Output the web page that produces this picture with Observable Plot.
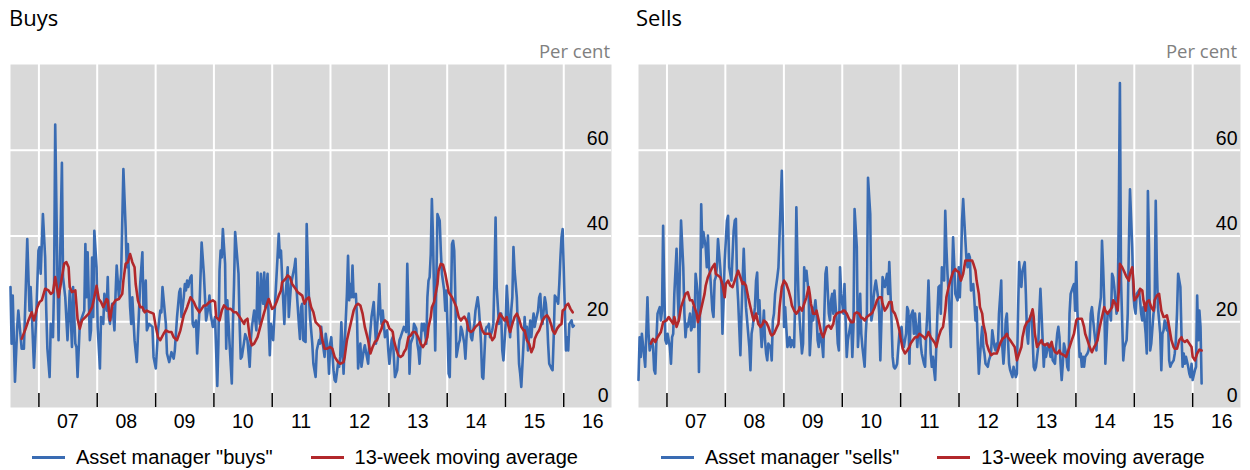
<!DOCTYPE html>
<html>
<head>
<meta charset="utf-8">
<script src="https://cdn.jsdelivr.net/npm/d3@7"></script>
<script src="https://cdn.jsdelivr.net/npm/@observablehq/plot@0.6"></script>
<style>
  html, body { margin: 0; padding: 0; background: #fff; }
  body { width: 1250px; height: 470px; position: relative; overflow: hidden; font-family: "Liberation Sans", Arial, sans-serif; }
  .panel { position: absolute; top: 0; height: 470px; }
  .title { position: absolute; top: 2px; font-family: "Open Sans", sans-serif; font-size: 22px; line-height: 30px; color: #000; }
  .unit { position: absolute; top: 38px; font-family: "Open Sans", sans-serif; font-size: 18.5px; line-height: 25px; color: #808080; white-space: nowrap; }
  .chart { position: absolute; left: 0; top: 40px; }
  .legend { position: absolute; top: 446px; display: flex; gap: 38px; font-size: 20px; line-height: 22px; color: #000; white-space: nowrap; }
  .item { display: flex; align-items: center; }
  .sw { display: inline-block; width: 33px; height: 0; border-top: 3px solid; margin-right: 11px; }
</style>
</head>
<body>
<div class="panel" id="left" style="left:0;width:625px">
  <div class="title" style="left:9px">Buys</div>
  <div class="unit" style="right:15px">Per cent</div>
  <div class="chart"></div>
  <div class="legend" style="left:32px"></div>
</div>
<div class="panel" id="right" style="left:628px;width:622px">
  <div class="title" style="left:8px">Sells</div>
  <div class="unit" style="right:13px">Per cent</div>
  <div class="chart"></div>
  <div class="legend" style="left:33px"></div>
</div>
<script>
// ---- data: [week number since 7 July 2006, per cent] ----
const buysWeekly = [[0,28.1],[1,14.9],[2,26.1],[4,6.0],[6,18.8],[7,22.6],[10,13.7],[12,13.7],[15,39.3],[17,22.6],[18,28.1],[19,22.6],[21,9.3],[23,21.1],[25,36.6],[26,37.4],[27,31.2],[29,45.1],[31,35.0],[32,22.6],[33,13.7],[35,7.1],[36,19.5],[38,16.4],[39,28.8],[40,66.0],[42,30.4],[43,15.7],[46,57.1],[47,30.4],[49,25.7],[51,15.7],[53,27.3],[55,14.1],[56,28.1],[58,14.9],[59,14.1],[60,7.1],[62,19.5],[64,21.1],[66,22.6],[67,38.1],[68,25.7],[69,36.2],[71,15.7],[72,18.0],[73,35.0],[74,21.1],[75,41.2],[77,32.7],[78,18.8],[80,9.1],[81,21.1],[83,19.5],[84,26.5],[86,22.6],[87,30.4],[88,21.1],[89,19.5],[91,24.2],[93,18.0],[94,26.5],[95,33.1],[97,25.7],[99,31.2],[101,55.6],[103,42.0],[104,32.7],[105,38.1],[107,23.4],[108,19.5],[109,25.7],[111,15.7],[113,10.6],[115,22.6],[116,28.8],[118,36.2],[119,22.6],[121,29.6],[122,18.0],[124,19.5],
[127,18.8],[128,11.8],[130,9.1],[132,18.0],[134,22.6],[135,22.2],[136,28.1],[139,19.5],[140,12.6],[142,10.6],[144,12.9],[146,11.4],[147,13.3],[149,21.1],[151,26.9],[152,27.7],[153,21.1],[155,25.7],[156,28.8],[157,27.3],[158,29.6],[159,28.1],[161,30.4],[162,30.8],[163,19.5],[164,18.8],[166,20.3],[167,12.6],[169,22.6],[171,38.5],[173,31.2],[174,25.7],[175,20.3],[177,23.4],[178,26.1],[179,21.9],[181,18.8],[183,21.1],[185,5.0],[186,14.9],[187,31.9],[188,36.6],[189,35.0],[190,41.6],[192,33.5],[193,13.7],[194,25.0],[196,14.9],[198,5.6],[199,19.5],[200,28.8],[201,40.9],[204,31.2],[205,19.5],[206,11.4],[207,11.8],[210,17.1],[212,15.7],[214,9.5],[215,15.7],[216,18.8],[218,22.6],[220,18.0],[221,31.5],[222,22.6],[223,19.5],[224,31.2],[226,24.2],[227,31.5],[228,23.4],[230,31.2],[231,19.5],[232,12.2],[233,19.5],[235,15.7],[237,25.7],[240,40.5],[241,35.0],[242,36.6],[243,30.4],[245,19.5],[246,25.7],[248,32.7],[249,21.1],[251,28.8],
[254,32.7],[255,34.7],[256,27.3],[258,19.5],[259,16.0],[260,23.4],[261,24.2],[262,15.7],[264,15.3],[265,42.8],[266,33.5],[267,25.7],[268,21.1],[270,14.9],[271,10.2],[273,7.1],[274,13.3],[276,15.7],[277,14.9],[278,18.8],[279,15.7],[281,11.8],[282,17.2],[284,13.3],[285,7.9],[286,14.9],[287,16.4],[289,8.7],[290,6.4],[291,6.0],[293,10.2],[294,9.5],[295,11.8],[296,19.9],[298,7.9],[299,14.9],[301,26.5],[302,35.4],[303,25.0],[304,28.8],[305,25.7],[306,33.1],[307,25.7],[309,26.5],[310,21.1],[311,9.1],[313,14.9],[314,9.5],[316,13.3],[317,14.5],[320,10.2],[321,14.9],[323,21.1],[325,24.6],[326,19.5],[327,14.9],[329,22.6],[330,28.8],[331,21.9],[332,19.5],[333,22.6],[335,16.4],[337,18.0],[338,13.3],[339,10.2],[341,15.7],[342,16.4],[343,11.8],[344,7.1],[346,8.7],[347,13.3],[348,15.7],[349,16.4],[351,18.0],[352,18.8],[354,17.6],[355,33.5],[356,22.6],[357,7.9],[358,14.9],[360,16.4],[361,19.5],[363,18.4],[364,14.9],[365,13.3],[366,10.2],[368,19.5],[369,18.0],[370,19.5],[372,14.9],[373,25.7],[374,29.6],[375,30.4],[376,35.8],[377,48.6],[378,39.7],[379,25.7],
[380,13.3],[382,45.1],[384,43.6],[385,36.6],[386,31.2],[388,27.3],[389,22.6],[390,27.3],[391,18.8],[392,7.9],[393,7.1],[394,22.6],[395,38.1],[396,38.9],[397,36.6],[398,25.7],[399,11.8],[401,14.9],[402,15.7],[403,18.8],[404,18.0],[406,14.9],[407,11.4],[408,16.4],[409,19.5],[410,21.9],[412,16.4],[413,15.7],[414,18.0],[415,19.5],[416,22.6],[418,25.7],[419,23.4],[420,19.5],[421,14.9],[422,7.1],[423,6.7],[425,18.0],[426,18.8],[427,18.8],[428,19.5],[429,16.4],[431,18.0],[432,19.5],[433,30.4],[434,44.3],[435,28.1],[437,19.5],[438,21.1],[439,21.9],[440,13.3],[441,11.0],[443,19.5],[444,28.4],[446,19.5],[447,16.4],[448,22.6],[449,25.7],[450,37.4],[451,31.9],[453,25.7],[454,18.0],[455,10.2],[456,7.9],[457,4.8],[459,14.9],[460,21.1],[461,16.4],[462,18.8],[463,13.3],[465,20.3],[466,16.4],[467,19.5],[468,21.9],[469,18.8],[470,20.3],[472,22.6],[473,25.7],[474,26.5],[475,21.1],[476,19.5],[478,25.7],[479,24.2],[480,21.1],[481,14.9],[482,10.2],[484,9.1],[485,8.7],[486,16.4],[487,26.1],[488,25.7],[490,24.2],[491,28.8],[492,35.0],[493,39.7],[494,41.6],[496,22.6],[497,13.3],[498,16.4],[499,13.3],[500,19.5],[502,20.3],[503,18.8],[504,19.1]];

const buysAverage = [[10,16.0],[13,18.0],[16,20.3],[19,22.2],[21,20.3],[24,23.4],[26,24.6],[28,25.0],[31,27.7],[34,27.3],[36,26.5],[38,26.9],[40,30.4],[43,25.7],[45,28.8],[48,33.5],[50,33.9],[52,32.7],[53,28.1],[55,26.9],[58,27.3],[60,20.7],[62,18.4],[64,20.3],[67,21.1],[70,21.9],[73,23.4],[75,25.7],[77,28.4],[79,25.3],[81,24.6],[83,23.4],[86,25.3],[87,25.0],[89,20.3],[91,23.8],[94,25.0],[97,25.3],[100,26.5],[101,29.6],[103,33.5],[105,33.9],[107,35.8],[109,33.9],[111,32.7],[112,28.8],[114,25.0],[116,23.4],[118,23.4],[120,22.2],[122,22.6],[125,22.2],
[128,21.9],[130,18.8],[132,16.4],[134,15.7],[137,17.2],[139,18.0],[142,17.6],[144,17.6],[146,16.4],[149,15.7],[152,18.0],[155,21.5],[158,23.4],[161,25.7],[164,24.6],[166,23.4],[169,22.2],[171,23.0],[173,23.8],[175,23.8],[178,24.6],[181,25.0],[183,24.6],[184,21.1],[187,20.3],[189,22.6],[191,23.8],[194,23.0],[197,23.0],[200,22.2],[202,22.2],[204,21.5],[206,20.7],[209,19.5],[210,20.3],[212,20.7],[214,16.4],[216,14.5],[218,14.9],[221,16.4],[223,18.4],[225,20.3],[227,22.2],[229,23.8],[231,25.3],[232,24.6],[234,23.0],[236,23.4],[238,24.6],[240,26.1],[242,27.3],[243,29.2],[246,30.0],[248,30.8],[250,30.4],[252,28.8],
[255,27.7],[257,26.9],[259,26.5],[261,26.1],[263,24.2],[265,25.3],[267,25.7],[269,23.4],[271,22.2],[273,19.9],[276,19.1],[277,18.8],[279,15.7],[281,13.7],[283,13.7],[286,14.1],[288,13.7],[290,11.8],[293,10.6],[295,10.2],[298,10.6],[299,11.8],[301,15.7],[303,18.0],[305,20.3],[307,22.6],[309,23.8],[311,24.2],[313,23.8],[315,21.9],[317,18.8],[320,15.7],[322,12.6],[324,14.1],[326,15.3],[328,15.7],[330,17.2],[332,18.4],[333,19.5],[335,20.3],[337,19.9],[339,18.4],[341,18.0],[342,17.6],[343,15.7],[345,13.7],[347,12.2],[349,11.8],[351,12.2],[352,12.9],[354,13.7],[356,16.4],[358,16.8],[360,17.6],[362,17.6],[364,16.8],[366,15.7],[367,14.9],[369,14.1],[371,14.9],[373,16.4],[374,18.8],[376,21.1],[377,23.4],[379,24.6],
[382,28.8],[383,31.9],[385,33.5],[387,33.3],[389,31.2],[391,28.4],[392,26.9],[395,25.7],[397,24.6],[399,23.4],[401,21.1],[403,20.3],[404,20.7],[406,21.2],[408,20.3],[410,18.0],[412,17.6],[414,18.0],[416,18.8],[419,19.5],[420,19.9],[422,18.0],[424,17.2],[427,17.2],[429,17.2],[431,15.7],[433,16.4],[435,19.5],[437,21.1],[438,21.9],[440,21.1],[442,20.3],[444,21.1],[445,19.5],[447,17.6],[449,19.5],[451,21.1],[453,21.9],[455,20.7],[457,18.8],[459,18.0],[460,18.0],[462,15.7],[464,14.9],[466,12.9],[468,14.1],[469,16.0],[471,17.2],[473,18.0],[475,19.5],[476,20.3],[478,21.1],[480,21.5],[482,20.7],[484,19.1],[485,18.0],[487,17.2],[489,18.4],[491,19.1],[493,19.5],[494,22.6],[496,23.0],[497,23.8],[499,24.2],[501,23.0],[503,22.2]];

const sellsWeekly = [[0,6.4],[1,16.4],[2,11.8],[3,17.2],[6,9.5],[8,25.7],[9,17.2],[10,13.3],[12,15.7],[13,14.1],[14,8.7],[15,7.9],[16,15.7],[17,21.9],[19,23.4],[20,20.3],[21,22.6],[22,42.4],[23,28.1],[24,15.7],[25,14.9],[26,17.2],[28,14.1],[29,10.2],[30,16.4],[31,17.2],[32,26.5],[34,37.0],[35,26.5],[36,20.3],[37,32.7],[38,43.6],[40,32.7],[41,21.9],[42,16.4],[43,19.5],[44,18.8],[46,21.9],[47,18.0],[48,18.8],[49,23.4],[50,18.8],[51,31.2],[53,26.5],[54,8.3],[55,23.4],[56,47.4],[57,37.4],[58,40.9],[60,37.4],[61,32.7],[62,40.1],[63,32.7],[64,31.2],[66,22.6],[67,21.1],[68,29.6],[69,30.4],[70,32.7],[71,39.3],[73,32.7],[74,28.8],[75,17.2],[76,25.0],[77,34.3],[79,43.6],[80,44.7],[81,32.7],[82,31.2],[83,29.6],[85,41.2],[86,43.6],[87,44.0],[88,29.6],[89,25.0],[91,12.2],[92,21.9],[93,29.6],[94,37.0],[95,29.6],[96,23.4],[99,14.1],[100,8.7],[101,17.2],[102,18.8],[104,23.4],[105,29.6],[106,31.5],[107,21.9],[108,25.0],[109,18.8],[110,14.1],[112,22.6],[113,15.7],[114,12.6],[115,11.0],[116,14.9],[118,14.1],[119,11.0],[120,20.3],[121,21.9],[122,26.5],[124,30.4],
[125,32.7],[128,55.2],[129,41.2],[130,18.8],[131,23.4],[133,14.1],[134,14.9],[135,16.4],[136,14.1],[137,15.7],[139,14.1],[140,25.7],[141,46.7],[142,34.3],[143,25.0],[144,20.3],[146,12.6],[147,14.9],[148,32.7],[149,29.6],[150,31.9],[152,26.5],[153,12.2],[154,17.2],[155,23.4],[156,20.3],[158,25.0],[159,21.9],[160,15.7],[161,14.1],[162,17.2],[164,14.9],[165,11.8],[166,21.9],[167,31.2],[168,32.7],[170,21.9],[171,20.3],[172,25.0],[173,26.5],[174,21.9],[175,27.3],[177,20.3],[178,14.9],[179,13.3],[180,32.7],[181,26.5],[183,21.9],[184,28.8],[185,20.3],[186,11.8],[187,15.7],[189,18.8],[190,20.3],[191,11.8],[192,18.8],[193,46.3],[195,37.4],[196,14.1],[197,18.8],[198,26.5],[199,17.2],[200,14.1],[202,9.5],[203,17.2],[204,21.9],[205,53.6],[207,45.1],[208,20.3],[209,21.9],[210,25.7],[211,28.1],[212,29.6],[214,25.7],[215,21.9],[216,11.0],[217,20.3],[218,30.4],[220,28.1],[221,29.6],[222,31.2],[223,26.5],[224,33.9],[226,20.3],[227,11.8],[228,9.5],[229,9.1],[230,9.5],[231,10.2],[233,17.2],[234,18.0],[235,18.8],[236,14.9],[237,14.1],[239,17.2],[240,23.4],[241,22.6],[242,10.2],[243,21.1],[245,22.6],[246,17.2],[247,21.9],[248,18.8],[249,14.1],[251,21.9],
[252,14.9],[253,12.6],[255,10.2],[256,9.5],[257,17.2],[258,21.9],[259,29.6],[261,12.6],[262,9.5],[263,11.8],[264,8.7],[265,6.4],[267,21.9],[268,28.1],[269,28.4],[270,21.9],[271,32.7],[273,29.6],[274,45.9],[275,37.4],[276,31.2],[277,26.5],[279,14.1],[280,29.6],[281,39.7],[282,33.5],[283,26.5],[285,25.0],[286,32.7],[287,25.7],[288,32.7],[289,43.6],[290,48.6],[291,43.6],[293,34.3],[294,32.7],[295,35.8],[296,35.0],[297,27.3],[299,28.8],[300,25.0],[301,20.3],[302,23.4],[303,14.9],[304,7.9],[306,15.7],[307,18.8],[308,14.1],[309,12.6],[310,10.2],[312,9.5],[313,11.0],[314,11.8],[315,13.3],[316,18.0],[318,14.1],[319,13.3],[320,14.9],[321,14.1],[322,21.9],[324,29.6],[325,14.1],[326,10.2],[327,14.1],[328,20.3],[329,21.9],[331,10.2],[332,8.7],[333,7.9],[334,7.1],[335,9.5],[337,7.1],[338,7.9],[339,21.9],[340,33.9],[341,30.4],[342,28.1],[343,31.9],[345,33.9],[346,26.5],[347,17.2],[348,14.9],[349,20.3],[351,21.9],[352,16.4],[353,9.5],[354,8.7],[355,9.5],[357,14.1],[358,21.9],[359,27.7],[360,21.9],[361,15.7],[362,9.5],[363,14.1],[364,11.8],[366,14.9],[367,14.1],[368,11.8],[369,14.1],[370,11.0],[372,10.2],[373,14.1],[374,17.2],[375,18.8],[376,16.4],[377,10.2],
[378,6.4],[379,10.2],[380,14.9],[382,12.6],[383,9.5],[384,8.7],[385,21.9],[386,26.5],[388,28.1],[389,28.8],[390,22.6],[391,33.9],[392,22.6],[394,11.8],[395,12.6],[396,9.5],[397,11.8],[398,9.5],[399,11.8],[401,12.6],[402,13.3],[403,15.7],[404,21.9],[405,23.4],[407,18.0],[408,15.7],[409,13.3],[410,18.0],[411,21.9],[413,25.7],[414,38.9],[415,32.7],[416,25.0],[417,10.2],[418,15.7],[419,21.9],[421,21.9],[422,20.3],[423,31.2],[424,30.4],[425,28.1],[427,21.9],[428,23.4],[429,45.1],[430,75.7],[431,29.6],[433,11.0],[434,14.1],[435,14.9],[436,15.7],[437,21.9],[438,37.4],[439,50.9],[441,37.4],[442,26.5],[443,23.4],[444,21.9],[445,26.5],[447,27.3],[448,25.0],[449,21.9],[450,20.3],[451,23.4],[453,17.2],[454,12.6],[455,50.5],[456,37.4],[457,13.3],[458,14.9],[460,21.9],[461,23.4],[462,48.2],[463,32.7],[464,23.4],[466,17.2],[467,8.7],[468,17.2],[469,18.0],[470,20.3],[472,18.0],[473,20.3],[474,11.0],[475,9.5],[476,10.2],[478,11.0],[479,12.6],[480,15.7],[481,21.9],[482,31.2],[484,28.1],[485,17.2],[486,9.5],[487,12.6],[488,10.2],[489,11.8],[491,9.5],[492,7.9],[493,7.1],[494,10.2],[495,6.4],[497,8.7],[498,9.5],[499,26.1],[500,15.7],[501,22.6],[502,18.8],[503,5.6]];

const sellsAverage = [[11,14.9],[13,16.0],[15,15.3],[17,16.4],[19,17.2],[20,17.6],[22,19.9],[25,20.3],[27,21.1],[29,20.3],[31,19.5],[32,21.1],[34,18.8],[36,20.3],[38,23.4],[40,25.0],[42,26.5],[44,26.9],[46,25.0],[48,25.0],[50,23.4],[52,21.9],[53,19.9],[55,21.9],[57,24.2],[59,26.5],[60,28.4],[62,30.4],[64,31.6],[66,32.7],[68,33.5],[69,31.2],[71,30.8],[73,30.4],[75,28.8],[77,25.7],[78,28.8],[80,29.6],[82,28.4],[84,28.1],[86,29.6],[87,30.4],[89,31.9],[91,30.4],[93,28.8],[94,29.2],[96,28.4],[98,25.7],[100,23.4],[102,21.1],[103,20.3],[105,21.9],[107,19.5],[109,18.8],[111,19.5],[112,20.3],[114,19.9],[116,18.8],[118,17.2],[119,16.8],[121,17.2],[123,18.4],[125,19.5],
[126,23.4],[128,28.1],[130,29.6],[132,28.8],[134,27.3],[136,25.3],[137,23.8],[139,22.6],[141,21.9],[143,22.6],[144,23.4],[146,22.6],[148,24.2],[150,25.7],[152,28.1],[153,26.5],[154,24.2],[156,21.9],[158,21.9],[159,22.6],[161,20.3],[163,17.6],[165,16.4],[167,18.0],[168,18.8],[170,19.1],[172,18.4],[174,19.5],[175,21.1],[177,21.9],[179,22.2],[181,22.2],[183,22.6],[184,22.6],[186,21.9],[188,20.7],[190,19.9],[192,19.9],[193,21.9],[195,22.2],[197,21.9],[199,20.9],[200,20.9],[202,20.3],[204,21.1],[206,21.5],[208,21.9],[209,22.2],[211,23.4],[213,25.0],[215,25.7],[217,25.7],[218,24.2],[220,22.6],[222,23.4],[224,24.6],[226,24.6],[227,22.6],[229,21.9],[231,20.3],[233,18.0],[234,16.4],[236,13.7],[238,12.6],[240,13.3],[242,14.1],[243,14.9],[245,15.7],[247,16.4],[249,16.4],[251,17.2],
[253,16.8],[255,16.4],[256,16.0],[258,16.8],[259,17.6],[261,16.4],[263,15.7],[265,14.9],[266,14.1],[268,16.4],[270,18.0],[272,18.8],[274,22.6],[275,25.7],[277,28.1],[279,30.0],[281,31.6],[283,32.3],[284,31.9],[286,31.6],[288,29.6],[290,31.2],[292,34.3],[293,34.3],[296,34.3],[298,34.3],[299,33.6],[301,31.9],[302,29.6],[304,26.5],[305,23.4],[307,21.9],[308,19.5],[310,17.2],[311,14.9],[313,13.3],[315,12.2],[317,12.6],[318,12.6],[320,12.6],[321,13.3],[323,14.9],[325,16.0],[327,16.4],[329,17.2],[330,16.4],[332,15.7],[334,14.9],[336,14.1],[337,12.6],[338,11.0],[340,12.6],[342,14.1],[343,16.4],[345,18.8],[347,19.9],[349,20.3],[351,21.9],[352,22.9],[353,21.1],[354,17.2],[356,14.1],[358,14.9],[360,15.7],[361,14.9],[363,14.5],[365,14.9],[367,14.1],[369,15.3],[370,14.1],[372,12.9],[374,12.6],[376,13.3],[377,12.6],
[380,12.2],[382,11.8],[383,12.6],[385,14.1],[387,15.7],[389,17.2],[391,20.3],[392,20.7],[394,20.7],[396,20.7],[398,18.8],[399,17.2],[401,15.7],[403,14.1],[405,12.9],[407,14.1],[408,14.5],[410,15.7],[412,18.8],[414,21.1],[416,23.4],[417,22.6],[419,21.9],[421,22.6],[423,23.4],[424,25.0],[426,24.2],[428,22.6],[429,27.3],[430,33.5],[432,32.7],[434,31.6],[436,30.4],[438,29.6],[439,31.2],[441,32.7],[442,29.6],[443,25.0],[445,25.7],[447,26.5],[448,27.7],[450,27.3],[451,25.0],[453,22.6],[454,24.6],[456,25.0],[458,23.4],[460,22.6],[461,25.0],[463,26.1],[465,26.5],[467,22.6],[469,21.1],[470,21.1],[472,21.5],[474,18.8],[476,15.7],[478,14.1],[479,13.7],[481,13.7],[483,15.7],[485,16.4],[486,15.7],[488,15.3],[490,15.7],[492,14.9],[494,14.1],[495,11.8],[497,11.0],[499,12.6],[501,13.5],[503,13.3]];

const years = [2007, 2008, 2009, 2010, 2011, 2012, 2013, 2014, 2015, 2016];
const yTicks = [0, 20, 40, 60];
const yGrid = [20, 40, 60];
const panels = [
  {id: "left", title: "Buys", weekly: buysWeekly, average: buysAverage, names: ['Asset manager "buys"', "13-week moving average"]},
  {id: "right", title: "Sells", weekly: sellsWeekly, average: sellsAverage, names: ['Asset manager "sells"', "13-week moving average"]}
];

// ---- drawing ----
const BLUE = "#3a6cb3";
const RED = "#b2282b";
const START = Date.UTC(2006, 6, 7);
const WEEK = 7 * 864e5;
const toRows = pairs => pairs.map(([w, v]) => ({date: new Date(START + w * WEEK), value: v}));
const yearStarts = years.map(y => new Date(Date.UTC(y, 0, 1)));
const yearMids = years.map(y => new Date(Date.UTC(y, 6, 1)));

function draw(p, width, marginRight) {
  const height = 405, marginTop = 24, marginBottom = 38;
  const innerH = height - marginTop - marginBottom;
  const chart = Plot.plot({
    width, height, marginTop, marginBottom, marginLeft: 10, marginRight,
    style: {fontFamily: '"Liberation Sans", Arial, sans-serif', fontSize: "19.5px", background: "transparent", color: "#000", overflow: "visible"},
    x: {type: "utc", domain: [new Date(START), new Date(Date.UTC(2016, 9, 26))], axis: null},
    y: {domain: [0, 80], axis: null},
    marks: [
      Plot.frame({fill: "#d9d9d9", stroke: "none"}),
      Plot.ruleY(yGrid, {stroke: "#ffffff", strokeWidth: 2}),
      Plot.ruleX(yearStarts, {stroke: "#ffffff", strokeWidth: 2}),
      Plot.ruleX(yearStarts, {stroke: "#000000", strokeWidth: 1.5, insetTop: innerH - 14}),
      Plot.lineY(toRows(p.weekly), {x: "date", y: "value", stroke: BLUE, strokeWidth: 2.6}),
      Plot.lineY(toRows(p.average), {x: "date", y: "value", stroke: RED, strokeWidth: 2.6}),
      Plot.text(yTicks, {y: d => d, text: d => String(d), frameAnchor: "right", textAnchor: "end", dx: -3, dy: -12, fill: "#000"}),
      Plot.text(yearMids, {x: d => d, text: d => String(d.getUTCFullYear() % 100).padStart(2, "0"), frameAnchor: "bottom", dy: 20, fill: "#000"})
    ]
  });
  const root = document.getElementById(p.id);
  root.querySelector(".chart").appendChild(chart);
  const legend = root.querySelector(".legend");
  [BLUE, RED].forEach((c, i) => {
    const item = document.createElement("span");
    item.className = "item";
    const sw = document.createElement("span");
    sw.className = "sw";
    sw.style.borderColor = c;
    item.appendChild(sw);
    item.appendChild(document.createTextNode(p.names[i]));
    legend.appendChild(item);
  });
}
draw(panels[0], 625, 14);
draw(panels[1], 622, 10);
</script>
</body>
</html>
